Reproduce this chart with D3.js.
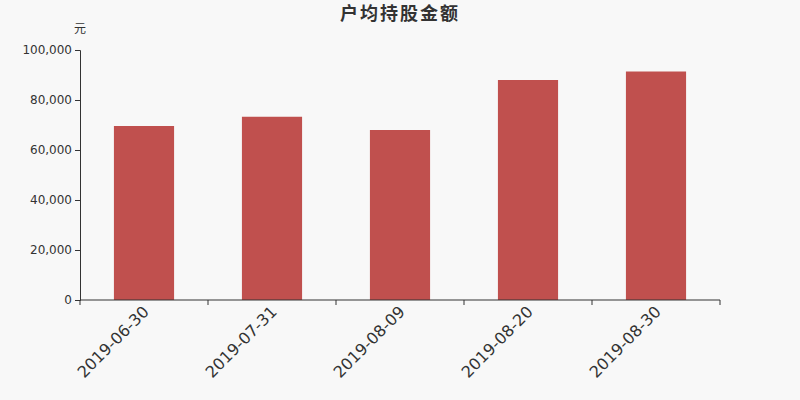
<!DOCTYPE html>
<html>
<head>
<meta charset="utf-8">
<script src="https://cdn.jsdelivr.net/npm/d3@7"></script>
<style>
  body { margin: 0; background: #f8f8f8; }
  svg { display: block; font-family: "DejaVu Sans", "Noto Sans CJK SC", sans-serif; }
</style>
</head>
<body>
<svg id="chart"></svg>
<script>
const dates = ["2019-06-30", "2019-07-31", "2019-08-09", "2019-08-20", "2019-08-30"];
const amounts = [69600, 73300, 68000, 88000, 91400];
const yTicks = [0, 20000, 40000, 60000, 80000, 100000];

const width = 800, height = 400;
const margin = { top: 50, right: 80, bottom: 100, left: 80 };

const svg = d3.select("#chart").attr("width", width).attr("height", height);
svg.append("rect").attr("width", width).attr("height", height).attr("fill", "#f8f8f8");

const x = d3.scaleBand()
  .domain(dates)
  .range([margin.left, width - margin.right])
  .paddingInner(0.53)
  .paddingOuter(0.265);

const y = d3.scaleLinear()
  .domain([0, 100000])
  .range([height - margin.bottom, margin.top]);

// title
svg.append("text")
  .attr("x", 400)
  .attr("y", 20)
  .attr("text-anchor", "middle")
  .attr("fill", "#333")
  .style("font-size", "18px")
  .style("letter-spacing", "2px")
  .style("font-weight", "bold")
  .style("font-family", "'Noto Sans CJK SC', sans-serif")
  .text("户均持股金额");

// unit
svg.append("text")
  .attr("x", 80)
  .attr("y", 33)
  .attr("text-anchor", "middle")
  .attr("fill", "#333")
  .style("font-size", "12px")
  .style("font-family", "'Noto Sans CJK SC', sans-serif")
  .text("元");

// bars
svg.append("g")
  .selectAll("rect")
  .data(amounts)
  .join("rect")
  .attr("x", (d, i) => x(dates[i]))
  .attr("y", d => y(d))
  .attr("width", x.bandwidth())
  .attr("height", d => y(0) - y(d))
  .attr("fill", "#c0504e");

// y axis
const yAxis = svg.append("g")
  .attr("transform", `translate(${margin.left},0)`)
  .call(d3.axisLeft(y).tickValues(yTicks).tickFormat(d3.format(",")).tickSize(5).tickPadding(3))
  .attr("font-family", null)
  .attr("font-size", null);
yAxis.select(".domain").attr("stroke", "#333");
yAxis.selectAll(".tick line").attr("stroke", "#333");
yAxis.selectAll("text")
  .attr("fill", "#333")
  .style("font-size", "12px")
  .style("font-family", "'DejaVu Sans', sans-serif");

// x axis: ticks at band boundaries
const xStep = x.step();
const boundaries = d3.range(dates.length + 1).map(i => margin.left + i * xStep);
const xAxis = svg.append("g").attr("transform", `translate(0,${y(0)})`);
xAxis.append("line")
  .attr("x1", margin.left).attr("x2", width - margin.right)
  .attr("stroke", "#333");
xAxis.selectAll("line.tk")
  .data(boundaries)
  .join("line")
  .attr("class", "tk")
  .attr("x1", d => d).attr("x2", d => d)
  .attr("y1", 0).attr("y2", 5)
  .attr("stroke", "#333");
xAxis.selectAll("text")
  .data(dates)
  .join("text")
  .attr("transform", d => `translate(${x(d) + x.bandwidth() / 2 - 2},5) rotate(-45)`)
  .attr("text-anchor", "end")
  .attr("dy", "0.7em")
  .attr("fill", "#333")
  .style("font-size", "16px")
  .style("font-family", "'DejaVu Sans', sans-serif")
  .text(d => d);
</script>
</body>
</html>
